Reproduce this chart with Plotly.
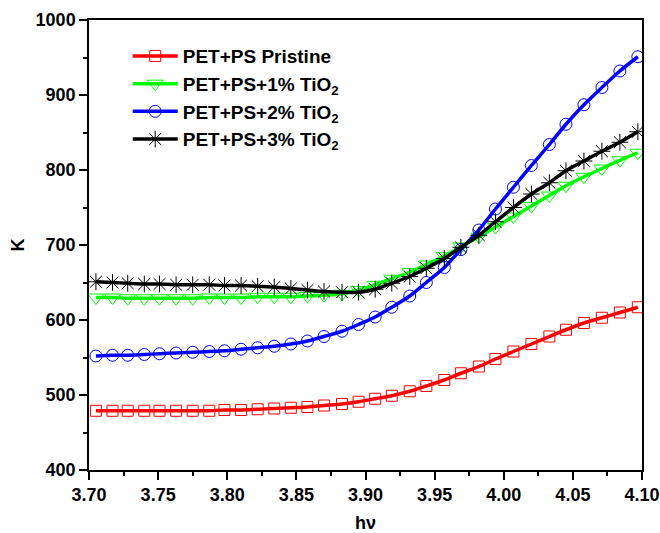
import plotly.graph_objects as go

hv = [3.705, 3.717, 3.728, 3.740, 3.751, 3.763, 3.775, 3.787, 3.798, 3.810,
      3.822, 3.834, 3.846, 3.858, 3.870, 3.883, 3.895, 3.907, 3.919, 3.932,
      3.944, 3.957, 3.969, 3.982, 3.994, 4.007, 4.020, 4.033, 4.045, 4.058,
      4.071, 4.084, 4.097]

k_pristine = [479, 479, 479, 479, 479, 479, 479, 479, 480, 480,
              481, 482, 483, 484, 486, 488, 491, 495, 499, 505,
              512, 520, 529, 538, 548, 558, 568, 578, 587, 596,
              603, 610, 617]

k_tio2_1 = [630, 630, 629, 629, 629, 629, 629, 630, 630, 630,
            631, 631, 631, 632, 633, 635, 640, 647, 655, 664,
            674, 685, 698, 711, 724, 738, 752, 766, 779, 791,
            802, 813, 823]

k_tio2_2 = [552, 553, 553, 554, 555, 556, 557, 558, 559, 561,
            563, 565, 568, 572, 578, 585, 594, 604, 617, 632,
            650, 670, 694, 720, 748, 777, 806, 834, 861, 887,
            910, 932, 951]

k_tio2_3 = [651, 650, 649, 648, 648, 647, 647, 647, 646, 646,
            645, 644, 642, 640, 638, 637, 637, 641, 649, 658,
            669, 682, 697, 713, 731, 750, 768, 783, 799, 812,
            825, 837, 851]

names = ["<b>PET+PS Pristine</b>",
         "<b>PET+PS+1% TiO<sub>2</sub></b>",
         "<b>PET+PS+2% TiO<sub>2</sub></b>",
         "<b>PET+PS+3% TiO<sub>2</sub></b>"]
series = [k_pristine, k_tio2_1, k_tio2_2, k_tio2_3]
colors = ["#FF0000", "#00FF00", "#0000FF", "#000000"]
symbols = ["square-open", "triangle-down-open", "circle-open", "asterisk-open"]
sizes = [11, 14, 12, 14]

FONT = "Liberation Sans, Arial, Helvetica, sans-serif"

fig = go.Figure()
for name, ys, c, s, sz in zip(names, series, colors, symbols, sizes):
    fig.add_trace(go.Scatter(
        x=hv, y=ys, name=name, mode="lines+markers",
        line=dict(color=c, width=3.5, shape="spline", smoothing=0.8),
        marker=dict(symbol=s, size=sz, color=c, line=dict(color=c, width=1)),
    ))

axis_common = dict(
    showgrid=False, zeroline=False, showline=True, linecolor="black",
    linewidth=1.5, mirror=True, ticks="outside", ticklen=8, tickwidth=1.5,
    tickcolor="black", automargin=False,
    tickfont=dict(family=FONT, size=18, color="black", weight="bold"),
    title_font=dict(family=FONT, size=18, color="black", weight="bold"),
)

fig.update_xaxes(
    range=[3.70, 4.10], dtick=0.05, tick0=3.70, tickformat=".2f",
    minor=dict(dtick=0.025, ticks="outside", ticklen=4, tickwidth=1.5, tickcolor="black"),
    title_text="hν", title_standoff=16, **axis_common)
fig.update_yaxes(
    range=[400, 1000], dtick=100, tick0=400,
    minor=dict(dtick=50, ticks="outside", ticklen=4, tickwidth=1.5, tickcolor="black"),
    title_text="K", title_standoff=6, **axis_common)

fig.update_layout(
    width=660, height=533,
    margin=dict(l=89, r=18, t=20, b=63, autoexpand=False),
    plot_bgcolor="white", paper_bgcolor="white",
    font=dict(family=FONT, color="black"),
    legend=dict(x=0.07, y=0.962, xanchor="left", yanchor="top",
                bgcolor="rgba(0,0,0,0)", borderwidth=0,
                font=dict(family=FONT, size=19, color="black"),
                tracegroupgap=0, itemwidth=45),
    showlegend=True,
)

fig.write_html("out.html",
               config={"displayModeBar": False},
               post_script="document.body.style.margin='0px';document.body.style.overflow='hidden';")
